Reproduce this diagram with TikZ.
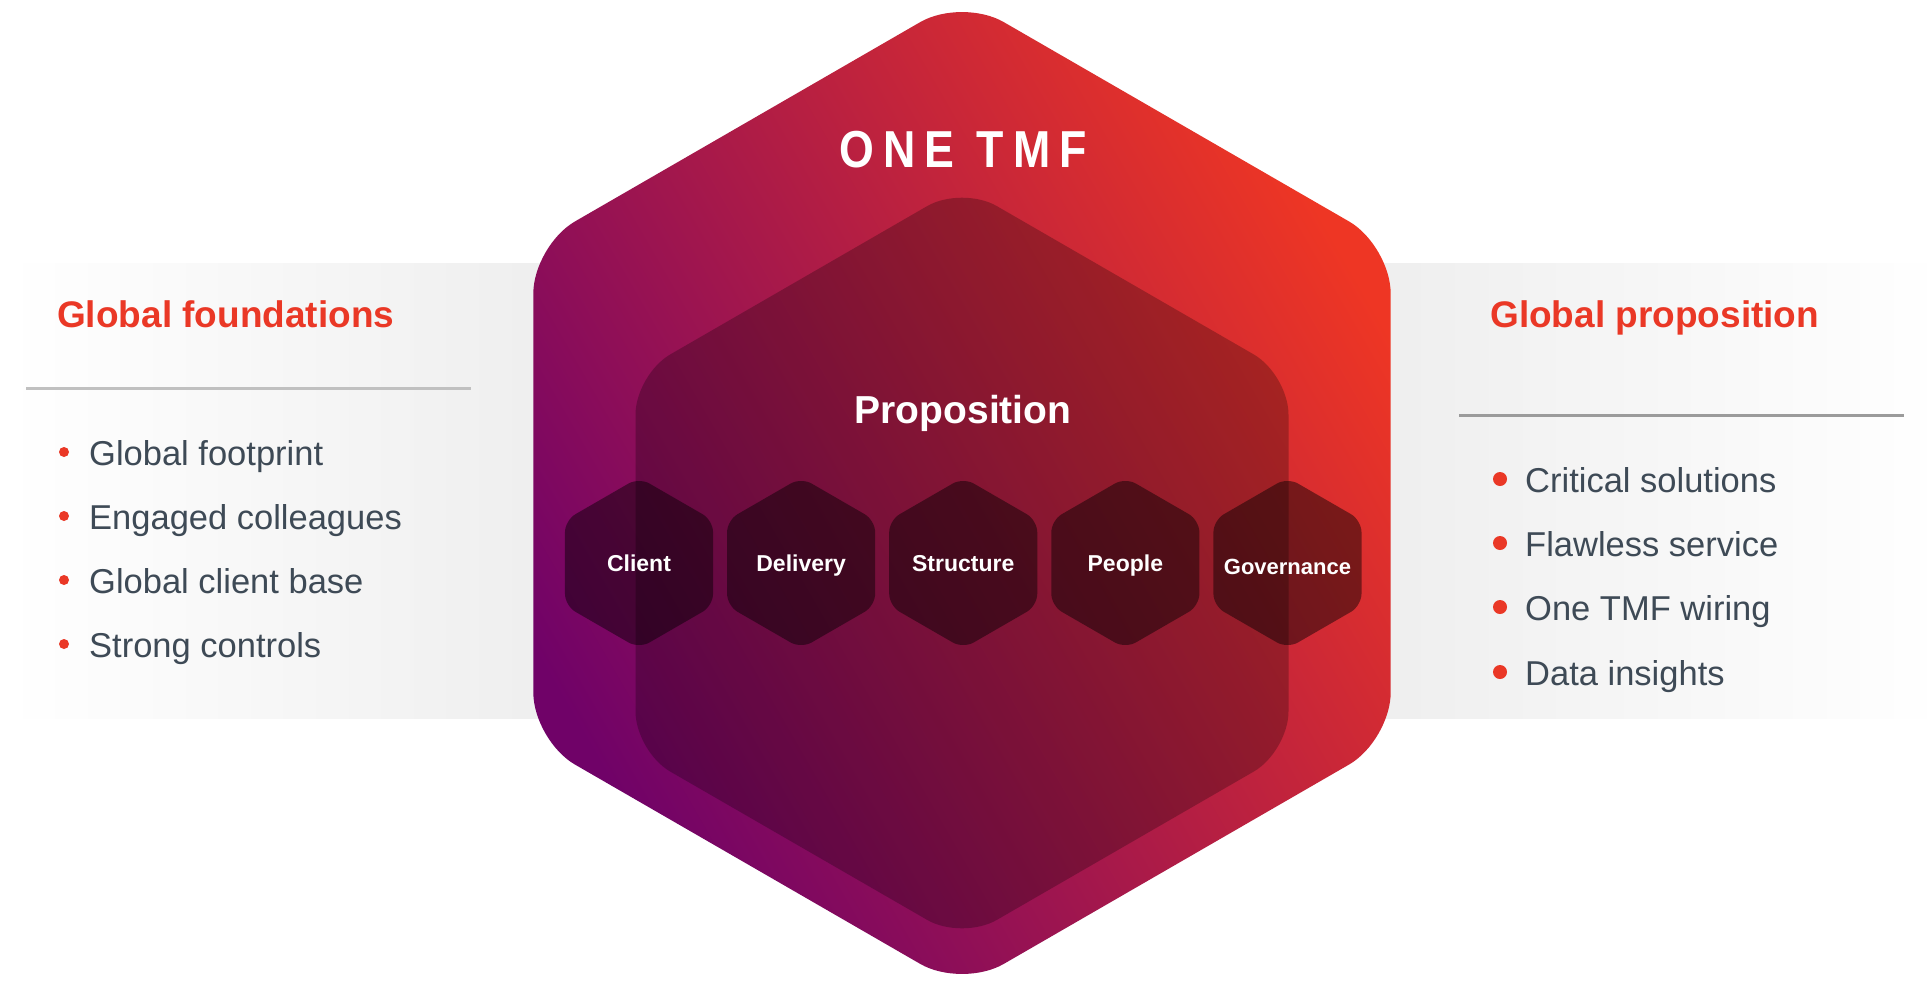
\documentclass[tikz,border=0pt]{standalone}
\usepackage{fontspec}
\setmainfont{Liberation Sans}
\newfontfamily\widefont{Liberation Sans}[FakeStretch=0.86,LetterSpace=18]
\usetikzlibrary{
  positioning,
  shapes.geometric
}
\definecolor{tmfred}{RGB}{234,56,38}
\definecolor{tmfpurple}{RGB}{112,2,104}
\definecolor{tmfcrimson}{RGB}{196,28,64}
\definecolor{tmforange}{RGB}{238,54,36}
\definecolor{slate}{RGB}{62,74,86}
\definecolor{panelgray}{RGB}{238,238,238}
\definecolor{rulegray}{RGB}{192,192,192}
\definecolor{ruledark}{RGB}{155,155,155}
\newcommand{\pxfont}[1]{\fontsize{#1}{#1}\selectfont}
\newcommand{\pointitem}[5]{%
  \fill[tmfred] (#1,#2-13) circle (#3);%
  \node[itemtext,anchor=base west] (#4) at (#1+25,#2) {#5};%
}
\tikzset{
  hexa/.style={regular polygon,regular polygon sides=6,shape border rotate=30,
    inner sep=0pt,outer sep=0pt},
  pillar/.style={hexa,minimum size=171pt,rounded corners=12pt,fill=black,
    fill opacity=0.45},
  pillartext/.style={text=white,font=\pxfont{23}\bfseries,inner sep=0pt,anchor=base},
  head/.style={text=tmfred,font=\pxfont{37}\bfseries,inner sep=0pt},
  itemtext/.style={text=slate,font=\pxfont{34.5},inner sep=0pt}
}

\begin{document}
\begin{tikzpicture}[x=1pt,y=-1pt]
  \useasboundingbox (0,0) rectangle (1927,980);
  \fill[white] (0,0) rectangle (1927,980);

  \shade[left color=white,right color=panelgray] (6,263) rectangle (560,718);
  \shade[left color=panelgray,right color=white!97!panelgray] (1370,263) rectangle (1927,718);
  \draw[rulegray,line width=3pt] (26,388) -- (471,388);
  \draw[ruledark,line width=3pt] (1459,415) -- (1904,415);

  \node[head,anchor=base west] (foundhead) at (57,327) {Global foundations};
  \node[head,anchor=base west] (prophead) at (1490,327) {Global proposition};

  \pointitem{64}{465}{5}{footprint}{Global footprint}
  \pointitem{64}{529}{5}{colleagues}{Engaged colleagues}
  \pointitem{64}{593}{5}{clientbase}{Global client base}
  \pointitem{64}{657}{5}{controls}{Strong controls}
  \pointitem{1500}{492}{7}{solutions}{Critical solutions}
  \pointitem{1500}{556}{7}{service}{Flawless service}
  \pointitem{1500}{620}{7}{wiring}{One TMF wiring}
  \pointitem{1500}{685}{7}{insights}{Data insights}

  \node[hexa,minimum size=990pt,rounded corners=48pt,left color=tmfpurple,
    middle color=tmfcrimson,right color=tmforange,shading angle=120] (onetmf) at (962,493) {};
  \node[hexa,minimum size=754pt,rounded corners=40pt,fill=black,fill opacity=0.25] (core) at (962,563) {};

  \node[text=white,font=\widefont\bfseries\pxfont{52},anchor=base] (title) at (963,167) {ONE TMF};
  \node[text=white,font=\pxfont{39}\bfseries,anchor=base] (proposition) at (963,423) {Proposition};

  \node[pillar] (client) at (639,563) {};
  \node[pillar,right=14pt of client] (delivery) {};
  \node[pillar,right=14pt of delivery] (structure) {};
  \node[pillar,right=14pt of structure] (people) {};
  \node[pillar,right=14pt of people] (governance) {};

  \node[pillartext] (clienttext) at ([yshift=-8pt]client.center) {Client};
  \node[pillartext] (deliverytext) at ([yshift=-8pt]delivery.center) {Delivery};
  \node[pillartext] (structuretext) at ([yshift=-8pt]structure.center) {Structure};
  \node[pillartext] (peopletext) at ([yshift=-8pt]people.center) {People};
  \node[pillartext,font=\pxfont{22}\bfseries] (governancetext) at ([yshift=-11pt]governance.center) {Governance};
\end{tikzpicture}
\end{document}
